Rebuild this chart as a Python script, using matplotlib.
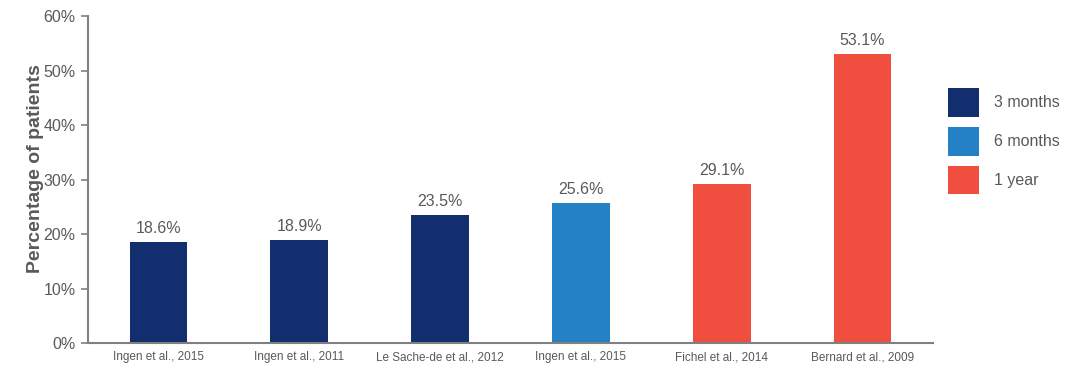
import matplotlib.pyplot as plt
from matplotlib.patches import Patch
from matplotlib.ticker import FuncFormatter

plt.rcParams['font.family'] = ['Liberation Sans', 'DejaVu Sans']

# data
studies = ["Ingen et al., 2015", "Ingen et al., 2011", "Le Sache-de et al., 2012",
           "Ingen et al., 2015", "Fichel et al., 2014", "Bernard et al., 2009"]
values = [18.6, 18.9, 23.5, 25.6, 29.1, 53.1]
periods = ["3 months", "3 months", "3 months", "6 months", "1 year", "1 year"]

period_names = ["3 months", "6 months", "1 year"]
period_colors = {"3 months": "#132E6E", "6 months": "#2481C6", "1 year": "#F04E3E"}

text_col = "#595959"
axis_col = "#808080"

fig = plt.figure(figsize=(10.75, 3.75), dpi=100)
ax = fig.add_axes([0.0819, 0.0853, 0.786, 0.872])

x = list(range(len(studies)))
bars = ax.bar(x, values, width=0.41, color=[period_colors[p] for p in periods])

for b, v in zip(bars, values):
    ax.text(b.get_x() + b.get_width() / 2, v + 1.1, f"{v:.1f}%",
            ha="center", va="bottom", fontsize=11.5, color=text_col)

ax.set_xlim(-0.5, len(studies) - 0.5)
ax.set_ylim(0, 60)
ax.set_yticks(range(0, 61, 10))
ax.yaxis.set_major_formatter(FuncFormatter(lambda v, _: f"{v:.0f}%"))
ax.set_xticks(x)
ax.set_xticklabels(studies, fontsize=8.5, color=text_col)
ax.tick_params(axis="x", length=0, pad=6)
ax.tick_params(axis="y", labelsize=11.5, labelcolor=text_col, color=axis_col,
               length=5, width=1.2, pad=4)

for s in ["top", "right"]:
    ax.spines[s].set_visible(False)
for s in ["left", "bottom"]:
    ax.spines[s].set_color(axis_col)
    ax.spines[s].set_linewidth(1.5)

ax.set_ylabel("Percentage of patients", fontsize=14, fontweight="bold",
              color=text_col)
ax.yaxis.set_label_coords(-0.052, 0.532)

handles = [Patch(facecolor=period_colors[p], label=p) for p in period_names]
fig.legend(handles=handles, loc="upper left", bbox_to_anchor=(0.871, 0.795),
           frameon=False, fontsize=11.5, labelcolor=text_col,
           handlelength=2.0, handleheight=2.4, labelspacing=0.62,
           handletextpad=0.9, borderpad=0.2)

fig.savefig("out.png", dpi=100)
